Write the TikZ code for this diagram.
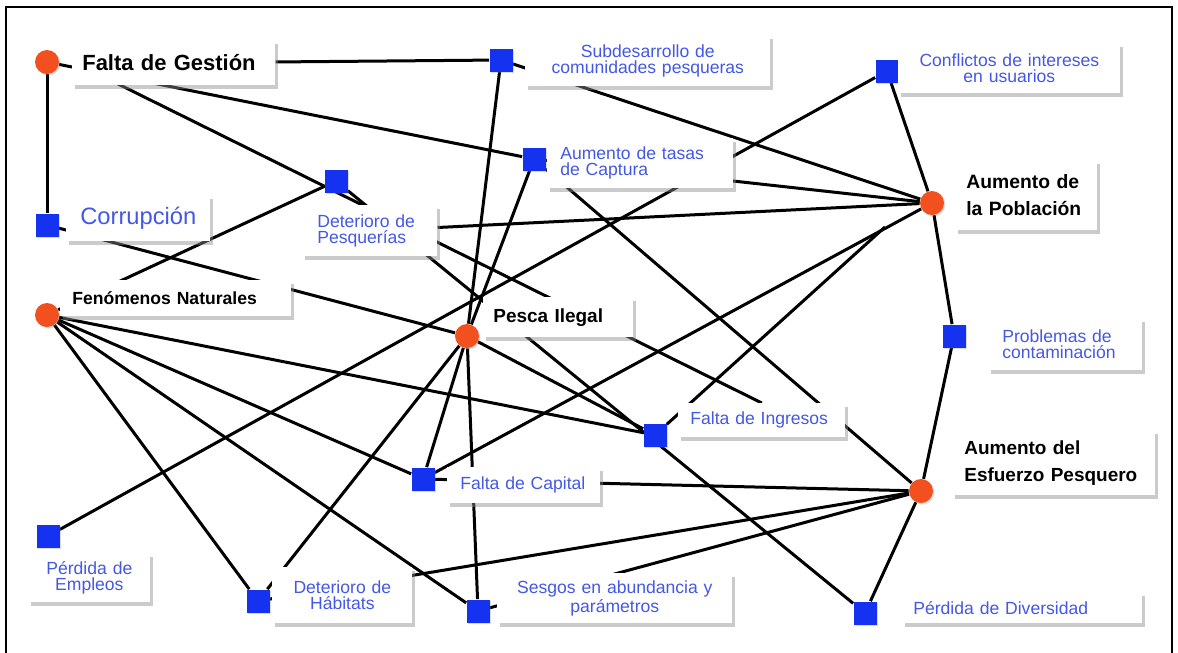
\documentclass[tikz,border=0pt]{standalone}
\usepackage{fontspec}
\setmainfont{Liberation Sans}
\usepackage{tikz}
\usetikzlibrary{shadows,backgrounds}
\definecolor{NetOrange}{HTML}{F2501E}
\definecolor{NetBlue}{HTML}{1432F0}
\definecolor{NetText}{HTML}{4458E6}
\definecolor{NetShadow}{HTML}{8C8C8C}
\newlength\pxu
\setlength\pxu{0.02cm}

\tikzset{
  hubnode/.style={circle,fill=NetOrange,minimum size=24\pxu,inner sep=0pt,
    drop shadow={shadow xshift=0.8pt,shadow yshift=-0.8pt,opacity=0.3,fill=NetShadow}},
  sqnode/.style={rectangle,fill=NetBlue,minimum size=23\pxu,inner sep=0pt,
    drop shadow={shadow xshift=0.8pt,shadow yshift=-0.8pt,opacity=0.3,fill=NetShadow}},
  lbl/.style={rectangle,fill=white,anchor=north west,inner ysep=0pt,
    drop shadow={shadow xshift=1.6pt,shadow yshift=-1.8pt,opacity=0.45,fill=NetShadow}},
  bluelbl/.style={lbl,text=NetText,font=\fontsize{10}{9.2}\selectfont},
  boldlbl/.style={lbl,text=black,font=\fontsize{10.8}{15.5}\selectfont\bfseries},
  link/.style={line width=3\pxu,black}
}

\begin{document}
\begin{tikzpicture}[x=0.02cm,y=-0.02cm]
\path[use as bounding box] (0,0) rectangle (1178,653);
\draw[line width=2.5\pxu] (6,653) -- (6,7) -- (1172,7) -- (1172,653);

% causes and effects (circles)
\node[hubnode] (fg) at (47,62) {};
\node[hubnode] (fn) at (47,315) {};
\node[hubnode] (pi) at (467,336) {};
\node[hubnode] (ap) at (932,203) {};
\node[hubnode] (ae) at (921,491) {};

% problems (squares)
\node[sqnode] (co) at (47,225) {};
\node[sqnode] (dp) at (336,181) {};
\node[sqnode] (sc) at (501,60) {};
\node[sqnode] (tc) at (534,159) {};
\node[sqnode] (ci) at (887,71) {};
\node[sqnode] (pc) at (954,336) {};
\node[sqnode] (fi) at (655,435) {};
\node[sqnode] (fc) at (423,479) {};
\node[sqnode] (pe) at (48,536) {};
\node[sqnode] (dh) at (258,601) {};
\node[sqnode] (sa) at (478,611) {};
\node[sqnode] (pd) at (865,613) {};

% labels
\node[boldlbl,font=\fontsize{12.5}{14}\selectfont\bfseries,align=left,text width=183\pxu,inner xsep=10\pxu,minimum height=45\pxu] (fgl) at (72,40) {Falta de Gestión};
\node[bluelbl,font=\fontsize{13.5}{15}\selectfont,align=center,text width=132\pxu,inner xsep=6\pxu,minimum height=46\pxu] (col) at (66,195) {Corrupción};
\node[boldlbl,font=\fontsize{10}{12}\selectfont\bfseries,align=left,text width=207\pxu,inner xsep=12\pxu,minimum height=36\pxu] (fnl) at (60,280) {Fenómenos Naturales};
\node[bluelbl,align=left,text width=105\pxu,inner xsep=15\pxu,minimum height=51\pxu] (dpl) at (302,205) {Deterioro de\\Pesquerías};
\node[bluelbl,align=center,text width=229\pxu,inner xsep=8\pxu,minimum height=51\pxu] (scl) at (525,35) {Subdesarrollo de\\comunidades pesqueras};
\node[bluelbl,align=left,text width=160\pxu,inner xsep=13\pxu,minimum height=50\pxu] (tcl) at (547,138) {Aumento de tasas\\de Captura};
\node[bluelbl,align=center,text width=202\pxu,inner xsep=10\pxu,minimum height=50\pxu] (cil) at (898,43) {Conflictos de intereses\\en usuarios};
\node[boldlbl,font=\fontsize{11}{15.5}\selectfont\bfseries,align=left,text width=120\pxu,inner xsep=11\pxu,minimum height=70\pxu] (apl) at (955,160) {Aumento de\\la Población};
\node[boldlbl,align=left,text width=130\pxu,inner xsep=10\pxu,minimum height=40\pxu] (pil) at (483,297) {Pesca Ilegal};
\node[bluelbl,align=left,text width=126\pxu,inner xsep=14\pxu,minimum height=52\pxu] (pcl) at (988,318) {Problemas de\\contaminación};
\node[bluelbl,align=left,text width=143\pxu,inner xsep=12\pxu,minimum height=34\pxu] (fil) at (678,403) {Falta de Ingresos};
\node[bluelbl,align=left,text width=127\pxu,inner xsep=13\pxu,minimum height=36\pxu] (fcl) at (447,467) {Falta de Capital};
\node[boldlbl,align=left,text width=179\pxu,inner xsep=12\pxu,minimum height=65\pxu] (ael) at (952,430) {Aumento del\\Esfuerzo Pesquero};
\node[bluelbl,align=center,text width=110\pxu,inner xsep=6\pxu,minimum height=49\pxu] (pel) at (28,553) {Pérdida de\\Empleos};
\node[bluelbl,align=center,text width=128\pxu,inner xsep=6\pxu,minimum height=56\pxu] (dhl) at (272,567) {Deterioro de\\Hábitats};
\node[bluelbl,align=center,text width=219\pxu,inner xsep=8\pxu,minimum height=50\pxu] (sal) at (497,573) {Sesgos en abundancia y\\parámetros};
\node[bluelbl,align=left,text width=218\pxu,inner xsep=11\pxu,minimum height=31\pxu] (pdl) at (902,592) {Pérdida de Diversidad};

% free ends
\coordinate (fgfi) at (110,80);
\coordinate (fiap) at (885,227);

% links
\begin{scope}[on background layer]
\draw[link] (fg) -- (co);
\draw[link] (fgl) -- (sc);
\draw[link] (fg) -- (tc);
\draw[link] (fgfi) -- (fil.north);
\draw[link] (co) -- (pi);
\draw[link] (fn) -- (dp);
\draw[link] (fn) -- (fi);
\draw[link] (fn) -- (fc);
\draw[link] (fn) -- (sa);
\draw[link] (fn) -- (dh);
\draw[link] (pe) -- (ci);
\draw[link] (sc) -- (pi);
\draw[link] (sc) -- (ap);
\draw[link] (tc) -- (pi);
\draw[link] (tc) -- (ap);
\draw[link] (tc) -- (ae);
\draw[link] (ci) -- (ap);
\draw[link] (dpl) -- (ap);
\draw[link] (dp) -- (pd);
\draw[link] (pi) -- (fc);
\draw[link] (pi) -- (sa);
\draw[link] (pi) -- (dh);
\draw[link] (pi) -- (fi);
\draw[link] (fc) -- (ap);
\draw[link] (fc) -- (ae);
\draw[link] (fi) -- (fiap);
\draw[link] (ap) -- (pc);
\draw[link] (pc) -- (ae);
\draw[link] (dh) -- (ae);
\draw[link] (sa) -- (ae);
\draw[link] (ae) -- (pd);
\end{scope}
\end{tikzpicture}
\end{document}
